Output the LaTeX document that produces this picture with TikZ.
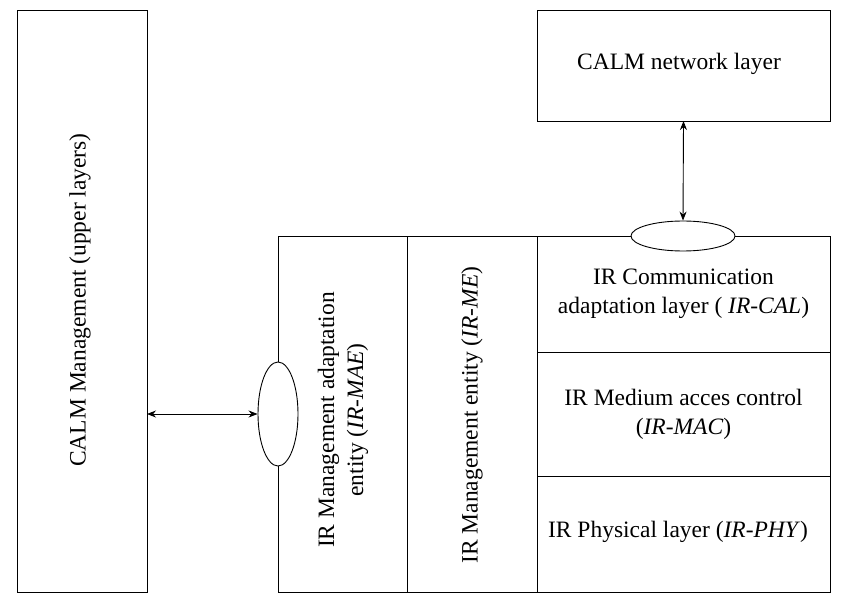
\documentclass[tikz,border=0pt]{standalone}
\usepackage{fontspec}
\setmainfont{Liberation Serif}
\usetikzlibrary{shapes.geometric,arrows.meta}

\begin{document}
\begin{tikzpicture}[x=1pt,y=-1pt, line width=0.9pt,
    box/.style={draw, inner sep=0pt, outer sep=0pt},
    lbl/.style={align=center, font=\fontsize{23.5}{29}\selectfont},
    sap/.style={draw, ellipse, fill=white, inner sep=0pt},
    biarrow/.style={{Stealth[length=9pt,width=7pt]}-{Stealth[length=9pt,width=7pt]}}]
    \useasboundingbox (0,0) rectangle (842,601);
    % boxes
    \node[box, minimum width=130, minimum height=582] (upper) at (82,301) {};
    \node[box, minimum width=293, minimum height=111] (net) at (683.5,65.5) {};
    \node[box, minimum width=129, minimum height=356] (mae) at (342.5,414) {};
    \node[box, minimum width=130, minimum height=356] (me) at (472,414) {};
    \node[box, minimum width=293, minimum height=116] (cal) at (683.5,294) {};
    \node[box, minimum width=293, minimum height=124] (mac) at (683.5,414) {};
    \node[box, minimum width=293, minimum height=116] (phy) at (683.5,534) {};
    % texts
    \node[lbl, rotate=90] at (80,300) {CALM Management (upper layers)};
    \node[lbl] at (679,64) {CALM network layer};
    \node[lbl, rotate=90] at (343,420) {IR Management adaptation\\entity (\textit{IR-MAE})};
    \node[lbl, rotate=90] at (472,415) {IR Management entity (\textit{IR-ME})};
    \node[lbl] at (cal.center) {IR Communication\\adaptation layer ( \textit{IR-CAL})};
    \node[lbl] at (mac.center) {IR Medium acces control\\(\textit{IR-MAC})};
    \node[lbl] at (678,532) {IR Physical layer (\textit{IR-PHY})};
    % access points
    \node[sap, minimum width=104, minimum height=30] (topsap) at (683,236) {};
    \node[sap, minimum width=40, minimum height=104] (leftsap) at (278,414) {};
    % connectors
    \draw[biarrow] (net.south) -- (topsap.north);
    \draw[biarrow] (upper.east |- leftsap.west) -- (leftsap.west);
\end{tikzpicture}
\end{document}
